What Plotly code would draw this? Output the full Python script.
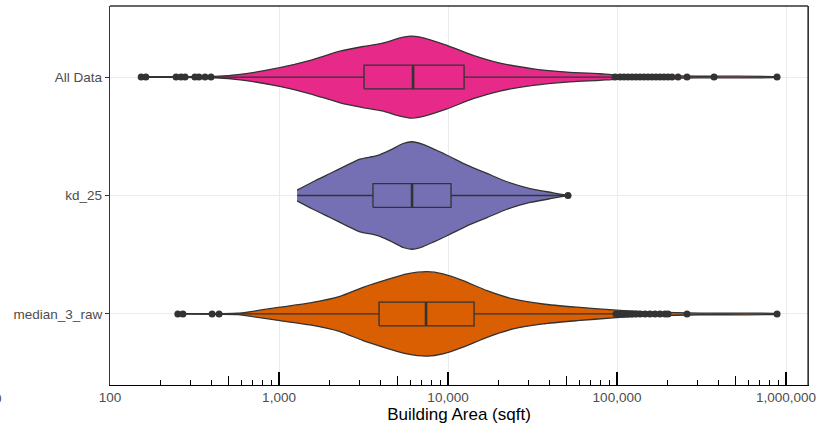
import plotly.graph_objects as go

# ---------------- data ----------------
categories = ["All Data", "kd_25", "median_3_raw"]
cat_pos = [2, 1, 0]
colors = ["#E7298A", "#7570B3", "#D95F02"]

# violin outlines: building area (sqft) and half-width (in category units)
all_area = [153, 418, 590, 1010, 1530, 2300, 3140, 4070, 5200, 5960, 6830, 9860,
            14100, 20300, 31900, 50600, 79300, 97300, 157000, 310000, 885000]
all_half = [0.003, 0.006, 0.023, 0.079, 0.141, 0.218, 0.258, 0.285, 0.330, 0.346,
            0.338, 0.268, 0.183, 0.118, 0.070, 0.042, 0.028, 0.019, 0.013, 0.007, 0.002]

kd_area = [1279, 1589, 2004, 2525, 3014, 3800, 4540, 5420, 6125, 7115, 9860,
           12950, 17020, 22350, 30560, 41800, 51300]
kd_half = [0.045, 0.116, 0.186, 0.256, 0.307, 0.337, 0.383, 0.439, 0.454, 0.431,
           0.340, 0.256, 0.186, 0.116, 0.059, 0.023, 0.0]

med_area = [252, 442, 571, 1014, 1525, 2296, 3142, 4355, 5715, 7515, 9340, 12270,
            17020, 24270, 36500, 57940, 94700, 156700, 309700, 885000]
med_half = [0.002, 0.003, 0.006, 0.057, 0.093, 0.149, 0.225, 0.290, 0.338, 0.357,
            0.338, 0.281, 0.197, 0.127, 0.084, 0.057, 0.034, 0.017, 0.007, 0.002]

# box statistics
q1 = [3185, 3597, 3908]
median = [6210, 6125, 7413]
q3 = [12450, 10420, 14260]
lower_whisker = [412, 1279, 564]
upper_whisker = [96000, 49900, 97300]

# outliers
all_outliers = [153, 163, 246, 263, 278, 318, 336, 365, 396,
                97300, 104300, 110000, 116100, 122700, 129500, 136800, 144500,
                152500, 161100, 170200, 179600, 189700, 200400, 211500, 229500,
                259500, 375000, 885000]
kd_outliers = [51300]
med_outliers = [252, 270, 402, 442,
                98600, 104300, 110000, 116100, 122700, 129500, 136800, 146500,
                156700, 167900, 179600, 192300, 200400, 259500, 885000]

major_ticks = [100, 1000, 10000, 100000, 1000000]
major_labels = ["100", "1,000", "10,000", "100,000", "1,000,000"]

# ---------------- figure ----------------
violins = [(all_area, all_half), (kd_area, kd_half), (med_area, med_half)]
outliers = [all_outliers, kd_outliers, med_outliers]
dark = "#333333"
box_half = 0.1

fig = go.Figure()

for (area, half), pos, col in zip(violins, cat_pos, colors):
    xs = list(area) + list(reversed(area))
    ys = [pos + h for h in half] + [pos - h for h in reversed(half)]
    fig.add_trace(go.Scatter(
        x=xs, y=ys, mode="lines", fill="toself", fillcolor=col,
        line=dict(color=dark, width=1.3, shape="spline", smoothing=0.6),
        hoverinfo="skip", showlegend=False))

for i, (pos, col) in enumerate(zip(cat_pos, colors)):
    # whiskers
    fig.add_trace(go.Scatter(
        x=[lower_whisker[i], q1[i], None, q3[i], upper_whisker[i]],
        y=[pos, pos, None, pos, pos], mode="lines",
        line=dict(color=dark, width=1.3), showlegend=False, hoverinfo="skip"))
    # box
    fig.add_trace(go.Scatter(
        x=[q1[i], q3[i], q3[i], q1[i], q1[i]],
        y=[pos - box_half, pos - box_half, pos + box_half, pos + box_half, pos - box_half],
        mode="lines", fill="toself", fillcolor=col,
        line=dict(color=dark, width=1.3), showlegend=False, hoverinfo="skip"))
    # median
    fig.add_trace(go.Scatter(
        x=[median[i], median[i]], y=[pos - box_half, pos + box_half], mode="lines",
        line=dict(color=dark, width=2.6), showlegend=False, hoverinfo="skip"))
    # outliers
    fig.add_trace(go.Scatter(
        x=outliers[i], y=[pos] * len(outliers[i]), mode="markers",
        marker=dict(color=dark, size=7), showlegend=False, hoverinfo="skip"))

minor_vals = [m * 10 ** e for e in range(2, 7) for m in (2, 3, 4, 6, 7, 8, 9)]
five_vals = [5 * 10 ** e for e in range(2, 6)]

xrange = [2, 6.130]
font_family = "Liberation Sans, Arial, sans-serif"

fig.update_layout(
    width=816, height=426,
    margin=dict(l=110, r=8, t=6, b=41, autoexpand=False),
    paper_bgcolor="white", plot_bgcolor="white",
    font=dict(family=font_family, color="#4d4d4d", size=13.5),
    xaxis=dict(
        type="log", range=xrange, automargin=False, ticklabeloverflow="allow",
        tickvals=major_ticks, ticktext=major_labels,
        ticks="inside", ticklen=13, tickwidth=1.6, tickcolor="black",
        showgrid=True, gridcolor="#ebebeb", gridwidth=1,
        showline=True, linecolor="black", linewidth=1.3, mirror=False,
        zeroline=False,
        minor=dict(tickvals=minor_vals, ticks="inside", ticklen=5,
                   tickwidth=1.2, tickcolor="black", showgrid=False),
        tickfont=dict(size=13.5, color="#4d4d4d"),
        title=dict(text="Building Area (sqft)",
                   font=dict(size=17, color="black"), standoff=3),
    ),
    xaxis2=dict(
        type="log", range=xrange, overlaying="x", anchor="y", side="bottom",
        automargin=False,
        tickvals=five_vals, ticktext=[""] * len(five_vals),
        ticks="inside", ticklen=9, tickwidth=1.3, tickcolor="black",
        showgrid=False, showline=False, zeroline=False, showticklabels=False,
    ),
    yaxis=dict(
        range=[-0.6, 2.6], tickvals=cat_pos, ticktext=categories, automargin=False,
        ticks="outside", ticklen=4, tickwidth=1.2, tickcolor=dark,
        showgrid=True, gridcolor="#ebebeb", gridwidth=1,
        showline=True, linecolor=dark, linewidth=1.3, mirror=True,
        zeroline=False, tickfont=dict(size=13.5, color="#4d4d4d"),
    ),
)

# invisible trace to activate xaxis2
fig.add_trace(go.Scatter(x=[100], y=[-1], xaxis="x2", yaxis="y", mode="markers",
                         marker=dict(opacity=0), showlegend=False, hoverinfo="skip"))

# top/right border of panel
fig.add_shape(type="line", xref="paper", yref="paper", x0=0, x1=1, y0=1, y1=1,
              line=dict(color=dark, width=1.3))
fig.add_shape(type="line", xref="paper", yref="paper", x0=1, x1=1, y0=0, y1=1,
              line=dict(color=dark, width=1.3))

fig.add_annotation(text="0", xref="paper", yref="paper", x=-112 / 698, y=-13 / 379,
                   xanchor="center", yanchor="middle", showarrow=False,
                   font=dict(size=13.5, color="#4d4d4d"))

fig.write_html("out.html")
